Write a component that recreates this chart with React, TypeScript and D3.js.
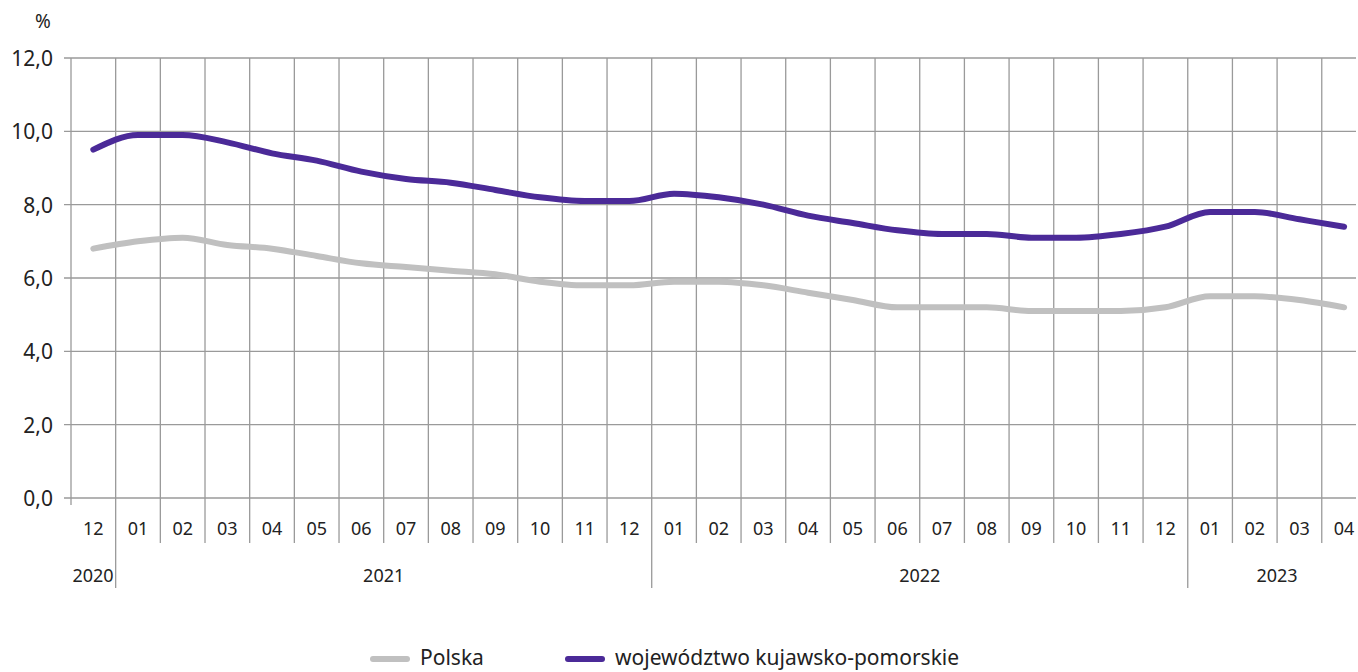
import React, { useEffect, useRef } from 'react';
import * as d3 from 'd3';

// Months from 12/2020 to 04/2023
const months = ['12', '01', '02', '03', '04', '05', '06', '07', '08', '09', '10', '11', '12', '01', '02', '03', '04', '05', '06', '07', '08', '09', '10', '11', '12', '01', '02', '03', '04'];
const years = [
  { label: '2020', from: 0, to: 0 },
  { label: '2021', from: 1, to: 12 },
  { label: '2022', from: 13, to: 24 },
  { label: '2023', from: 25, to: 28 },
];
const polska = [6.8, 7.0, 7.1, 6.9, 6.8, 6.6, 6.4, 6.3, 6.2, 6.1, 5.9, 5.8, 5.8, 5.9, 5.9, 5.8, 5.6, 5.4, 5.2, 5.2, 5.2, 5.1, 5.1, 5.1, 5.2, 5.5, 5.5, 5.4, 5.2];
const kujawsko = [9.5, 9.9, 9.9, 9.7, 9.4, 9.2, 8.9, 8.7, 8.6, 8.4, 8.2, 8.1, 8.1, 8.3, 8.2, 8.0, 7.7, 7.5, 7.3, 7.2, 7.2, 7.1, 7.1, 7.2, 7.4, 7.8, 7.8, 7.6, 7.4];
const yTicks = [0, 2, 4, 6, 8, 10, 12];

const W = 1358;
const H = 672;
const FONT = '"Noto Sans", sans-serif';
const GRID = '#9a9a9a';
const GRAY = '#c0c0c0';
const PURPLE = '#4b2a98';

const App = () => {
  const svgRef = useRef<SVGSVGElement>(null);

  useEffect(() => {
    const svg = d3.select(svgRef.current);
    svg.selectAll('*').remove();

    const left = 71;
    const gridRight = 1356;
    const x = d3.scaleBand<number>().domain(d3.range(months.length)).range([left, left + 44.67 * months.length]);
    const y = d3.scaleLinear().domain([0, 12]).range([498, 58]);

    // horizontal grid lines
    svg.append('g')
      .selectAll('line')
      .data(yTicks)
      .enter()
      .append('line')
      .attr('x1', left - 7)
      .attr('x2', gridRight)
      .attr('y1', (d) => y(d))
      .attr('y2', (d) => y(d))
      .attr('stroke', GRID)
      .attr('stroke-width', 1.3);

    // left axis
    svg.append('line')
      .attr('x1', left).attr('x2', left)
      .attr('y1', y(12)).attr('y2', y(0) + 7)
      .attr('stroke', GRID).attr('stroke-width', 1.3);

    // vertical column separators
    const yearStarts = years.slice(1).map((yr) => yr.from);
    svg.append('g')
      .selectAll('line')
      .data(d3.range(1, months.length))
      .enter()
      .append('line')
      .attr('x1', (i) => x(i)!)
      .attr('x2', (i) => x(i)!)
      .attr('y1', y(12))
      .attr('y2', (i) => (yearStarts.includes(i) ? 588 : 543))
      .attr('stroke', GRID)
      .attr('stroke-width', 1.3);

    // y labels
    svg.append('g')
      .selectAll('text')
      .data(yTicks)
      .enter()
      .append('text')
      .attr('x', 53)
      .attr('y', (d) => y(d) + 8)
      .attr('text-anchor', 'end')
      .style('font-family', FONT)
      .style('font-size', '21px')
      .style('fill', '#222')
      .text((d) => d3.format('.1f')(d).replace('.', ','));

    svg.append('text')
      .attr('x', 43).attr('y', 28)
      .attr('text-anchor', 'middle')
      .style('font-family', FONT)
      .style('font-size', '19px')
      .style('fill', '#222')
      .text('%');

    // month labels
    svg.append('g')
      .selectAll('text')
      .data(months)
      .enter()
      .append('text')
      .attr('x', (d, i) => x(i)! + x.bandwidth() / 2)
      .attr('y', 535)
      .attr('text-anchor', 'middle')
      .style('font-family', FONT)
      .style('font-size', '18px')
      .style('fill', '#222')
      .text((d) => d);

    // year labels
    svg.append('g')
      .selectAll('text')
      .data(years)
      .enter()
      .append('text')
      .attr('x', (d) => d.label === '2020' ? x(0)! + 22 : (x(d.from)! + x(d.to)! + x.bandwidth()) / 2)
      .attr('y', 582)
      .attr('text-anchor', 'middle')
      .style('font-family', FONT)
      .style('font-size', '18px')
      .style('fill', '#222')
      .text((d) => d.label);

    // lines
    const line = d3.line<number>()
      .x((d, i) => x(i)! + x.bandwidth() / 2)
      .y((d) => y(d))
      .curve(d3.curveMonotoneX);

    svg.append('path')
      .attr('d', line(polska))
      .attr('fill', 'none')
      .attr('stroke', GRAY)
      .attr('stroke-width', 6)
      .attr('stroke-linecap', 'round');

    svg.append('path')
      .attr('d', line(kujawsko))
      .attr('fill', 'none')
      .attr('stroke', PURPLE)
      .attr('stroke-width', 6)
      .attr('stroke-linecap', 'round');

    // legend
    const legend = [
      { label: 'Polska', color: GRAY, x: 373 },
      { label: 'województwo kujawsko-pomorskie', color: PURPLE, x: 568 },
    ];
    const lg = svg.append('g');
    legend.forEach((l) => {
      lg.append('line')
        .attr('x1', l.x).attr('x2', l.x + 34)
        .attr('y1', 659).attr('y2', 659)
        .attr('stroke', l.color)
        .attr('stroke-width', 6)
        .attr('stroke-linecap', 'round');
      lg.append('text')
        .attr('x', l.x + 47)
        .attr('y', 665)
        .style('font-family', FONT)
        .style('font-size', '21px')
        .style('fill', '#222')
        .text(l.label);
    });
  }, []);

  return (
    <svg
      ref={svgRef}
      width={W}
      height={H}
      style={{ position: 'absolute', left: 0, top: 0, background: '#fff' }}
    />
  );
};

export default App;
